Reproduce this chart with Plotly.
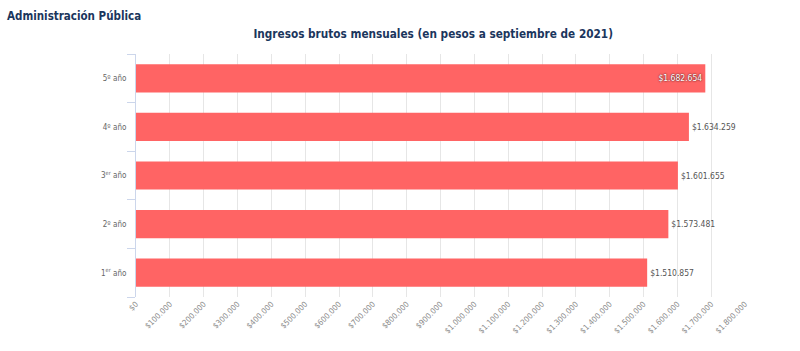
import plotly.graph_objects as go

categories = ["1<sup>er</sup> año", "2º año", "3<sup>er</sup> año", "4º año", "5º año"]
values = [1510857, 1573481, 1601655, 1634259, 1682654]
tick_vals = list(range(0, 1800001, 100000))
tick_text = ["$" + f"{v:,}".replace(",", ".") for v in tick_vals]
labels = ["$" + f"{v:,}".replace(",", ".") for v in values]
positions = ["outside", "outside", "outside", "outside", "inside"]

font = "DejaVu Sans Condensed, DejaVu Sans, sans-serif"

fig = go.Figure(go.Bar(
    x=values, y=categories, orientation="h",
    marker=dict(color="#ff6464", line=dict(width=0)),
    text=labels, textposition=positions,
    insidetextanchor="end",
    insidetextfont=dict(color="#ffffff", size=8.5, family=font, shadow="0px 0px 2px #000000"),
    outsidetextfont=dict(color="#555555", size=8.5, family=font),
    cliponaxis=False,
))

fig.update_layout(
    width=800, height=351,
    margin=dict(l=136, r=55, t=54, b=54, autoexpand=False),
    paper_bgcolor="white", plot_bgcolor="white",
    bargap=0.42,
    showlegend=False,
    font=dict(family=font),
    title=dict(
        text="<b>Ingresos brutos mensuales (en pesos a septiembre de 2021)</b>",
        x=0.488, xanchor="center", xref="paper", y=0.903, yanchor="middle",
        font=dict(size=11.7, color="#1b365d", family=font),
    ),
    annotations=[dict(
        text="<b>Administración Pública</b>", xref="paper", yref="paper",
        x=-136/609, xanchor="left", xshift=5, y=1, yshift=38, yanchor="middle",
        showarrow=False, font=dict(size=11.5, color="#1b365d", family=font),
    )],
)

fig.update_xaxes(
    range=[0, 1800000], tickvals=tick_vals, ticktext=tick_text,
    tickangle=-45, tickfont=dict(size=8, color="#8a8a8a", family=font),
    showgrid=True, gridcolor="#e6e6e6", gridwidth=1,
    zeroline=False, showline=False, ticks="", automargin=False,
)
fig.update_yaxes(
    tickfont=dict(size=8, color="#666666", family=font),
    showline=True, linecolor="#ccd6eb", linewidth=1,
    ticks="outside", tickson="boundaries", ticklen=8, tickcolor="#ccd6eb",
    ticklabelstandoff=7,
    showgrid=False, automargin=False,
)

fig.write_html("out.html")
